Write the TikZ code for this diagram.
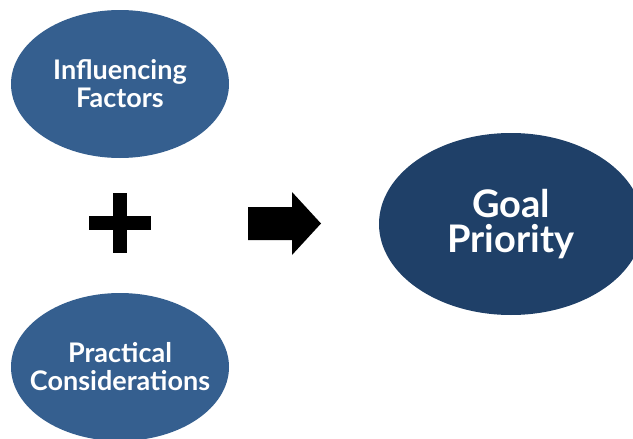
\documentclass[tikz,border=0pt]{standalone}
\usepackage{fontspec}
\setmainfont{Lato}
\usetikzlibrary{shapes.geometric}
\definecolor{smallblue}{RGB}{53,95,143}
\definecolor{goalblue}{RGB}{31,64,104}
\tikzset{
  oval/.style={ellipse, fill=smallblue, draw=none, text=white, align=center,
    font=\fontsize{27}{28}\selectfont\bfseries, inner ysep=0pt, inner xsep=-25pt,
    minimum width=218pt, minimum height=148pt},
  goaloval/.style={ellipse, fill=goalblue, draw=none, text=white, align=center,
    font=\fontsize{38}{35}\selectfont\bfseries, inner sep=0pt,
    minimum width=264pt, minimum height=182pt},
  sym/.style={fill=black, draw=none}
}
\begin{document}
\begin{tikzpicture}[x=1pt,y=-1pt]
\useasboundingbox (0,0) rectangle (633,439);
\clip (0,0) rectangle (633,439);
\node[oval] (inf) at (120,84) {Influencing\\Factors};
\node[oval] (prac) at (120,367) {Practical\\Considerations};
\node[goaloval] (goal) at (511,224) {Goal\\Priority};
\fill[sym] (113,193) rectangle (127,253);
\fill[sym] (89,216) rectangle (151,230);
\fill[sym] (248,207) -- (292,207) -- (292,192) -- (321,223.5) -- (292,255) -- (292,240) -- (248,240) -- cycle;
\end{tikzpicture}
\end{document}
